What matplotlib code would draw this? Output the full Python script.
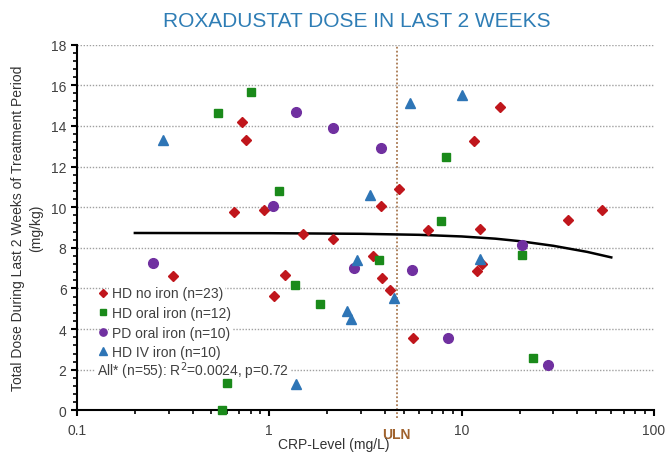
"""Roxadustat dose in the last 2 weeks vs CRP level, by iron/dialysis group."""

import matplotlib.pyplot as plt
from matplotlib.lines import Line2D
from matplotlib.ticker import MultipleLocator, LogLocator, NullFormatter, FixedLocator, FixedFormatter

plt.rcParams['font.family'] = ['Liberation Sans', 'DejaVu Sans']

# HD no iron (n=23)
hd_none_crp = [0.717, 0.756, 0.652, 0.94, 1.49, 2.15, 0.316, 1.21, 1.06, 4.7, 3.83, 6.68,
               12.5, 35.6, 3.48, 3.86, 4.22, 5.62, 15.8, 11.6, 53.4, 12.0, 12.7]
hd_none_dose = [14.2, 13.3, 9.75, 9.85, 8.7, 8.45, 6.6, 6.65, 5.65, 10.9, 10.06, 8.88,
                8.92, 9.35, 7.58, 6.5, 5.94, 3.55, 14.95, 13.26, 9.87, 6.87, 7.2]

# HD oral iron (n=12)
hd_oral_crp = [0.538, 0.806, 1.12, 1.36, 1.84, 0.606, 0.567, 3.7, 7.84, 8.26, 20.5, 23.5]
hd_oral_dose = [14.65, 15.65, 10.8, 6.17, 5.25, 1.35, 0.0, 7.4, 9.3, 12.45, 7.66, 2.58]

# PD oral iron (n=10)
pd_oral_crp = [0.248, 1.37, 2.15, 1.05, 2.75, 3.8, 5.55, 8.49, 20.7, 28.2]
pd_oral_dose = [7.26, 14.7, 13.9, 10.06, 7.0, 12.9, 6.9, 3.56, 8.13, 2.24]

# HD IV iron (n=10)
hd_iv_crp = [0.28, 2.55, 2.65, 1.38, 2.86, 3.32, 4.44, 5.4, 10.0, 12.5]
hd_iv_dose = [13.3, 4.9, 4.5, 1.3, 7.4, 10.6, 5.55, 15.1, 15.5, 7.45]

# regression curve for all patients
fit_crp = [0.2, 1, 3, 6, 10, 15, 20, 30, 45, 60]
fit_dose = [8.73, 8.72, 8.69, 8.64, 8.56, 8.45, 8.33, 8.1, 7.8, 7.53]

uln = 4.6
y_ticks = [0, 2, 4, 6, 8, 10, 12, 14, 16, 18]
x_ticks = [0.1, 1, 10, 100]
x_tick_labels = ['0.1', '1', '10', '100']

groups = [
    (hd_none_crp, hd_none_dose, 'HD no iron (n=23)', 'D', '#C0161C', 5.0),
    (hd_oral_crp, hd_oral_dose, 'HD oral iron (n=12)', 's', '#1A8A1A', 6.0),
    (pd_oral_crp, pd_oral_dose, 'PD oral iron (n=10)', 'o', '#7030A0', 7.0),
    (hd_iv_crp, hd_iv_dose, 'HD IV iron (n=10)', '^', '#2E75B6', 7.0),
]
narrow = ['Liberation Sans Narrow', 'Liberation Sans', 'DejaVu Sans']

fig = plt.figure(figsize=(6.67, 4.56), dpi=100)
ax = fig.add_axes([0.1154, 0.0976, 0.865, 0.8026])

ax.set_xscale('log')
ax.set_xlim(0.1, 100)
ax.set_ylim(0, 18)

# dotted horizontal grid
for yv in y_ticks[1:]:
    ax.axhline(yv, color='#A0A0A0', linestyle=(0, (1, 1.2)), linewidth=1.0, zorder=1)

ax.axvline(uln, color='#A87850', linestyle=(0, (1, 1.2)), linewidth=1.3, zorder=1,
           clip_on=False, ymin=-0.02)

ax.plot(fit_crp, fit_dose, color='black', linewidth=1.8, zorder=2)

handles = []
for crp, dose, label, marker, color, ms in groups:
    ax.plot(crp, dose, linestyle='none', marker=marker, color=color, markersize=ms,
            markeredgecolor=color, zorder=6, clip_on=False)
    handles.append(Line2D([], [], linestyle='none', marker=marker, color=color,
                          markersize=ms * 0.75))

leg = ax.legend(handles, [g[2] for g in groups], loc='upper left', bbox_to_anchor=(0.025, 0.358),
                frameon=False, fontsize=10, handlelength=0.6, handletextpad=0.35,
                labelspacing=0.4, borderpad=0.0, labelcolor='#404040')
for txt in leg.get_texts():
    txt.set_bbox(dict(facecolor='white', edgecolor='none', pad=1.5))
leg.set_zorder(5)

ax.text(0.035, 2.0, 'All* (n=55): R$^2$=0.0024, p=0.72', transform=ax.get_yaxis_transform(),
        fontsize=10, color='#404040', va='center', ha='left', zorder=5,
        bbox=dict(facecolor='white', edgecolor='none', pad=1.5))

# axes styling
for side in ['top', 'right']:
    ax.spines[side].set_visible(False)
ax.spines['left'].set_linewidth(1.5)
ax.spines['bottom'].set_linewidth(1.5)

ax.yaxis.set_major_locator(FixedLocator(y_ticks))
ax.yaxis.set_minor_locator(MultipleLocator(0.4))
ax.xaxis.set_major_locator(FixedLocator(x_ticks))
ax.xaxis.set_major_formatter(FixedFormatter(x_tick_labels))
ax.xaxis.set_minor_locator(LogLocator(base=10, subs=range(2, 10)))
ax.xaxis.set_minor_formatter(NullFormatter())
ax.tick_params(axis='both', which='major', direction='out', length=4, width=1.5,
               labelsize=10, colors='black', labelcolor='#404040')
ax.tick_params(axis='both', which='minor', direction='out', length=3, width=1.2)
ax.tick_params(axis='x', which='major', pad=5)

ax.set_ylabel('Total Dose During Last 2 Weeks of Treatment Period\n(mg/kg)', fontsize=10,
              color='#333333', labelpad=6, linespacing=1.3, family=narrow)
fig.text(0.5, 0.024, 'CRP-Level (mg/L)', ha='center', va='center', fontsize=10,
         color='#333333', family=narrow)

ax.text(uln, -0.045, 'ULN', transform=ax.get_xaxis_transform(), ha='center', va='top',
        fontsize=10, color='#A0622D', fontweight='bold')

fig.text(0.535, 0.952, 'ROXADUSTAT DOSE IN LAST 2 WEEKS', ha='center', va='center',
         fontsize=15, color='#2E7DB5')

fig.savefig('out.png', dpi=100)
